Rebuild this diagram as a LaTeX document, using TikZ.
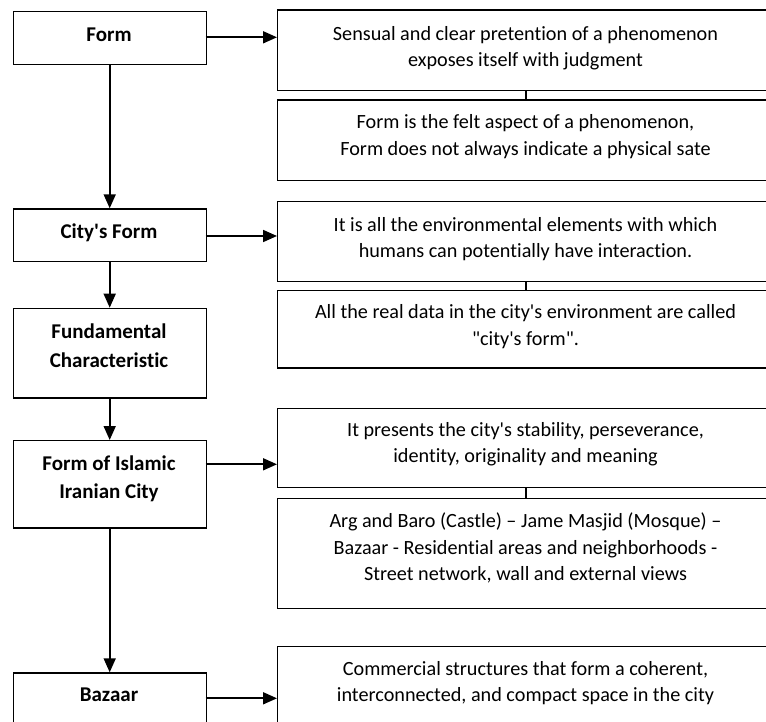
\documentclass[tikz,border=0pt]{standalone}
\usepackage{fontspec}
\setmainfont{Carlito}[Ligatures={TeXOff,NoCommon}]
\usetikzlibrary{arrows.meta,calc}
\begin{document}
\begin{tikzpicture}[x=1pt,y=-1pt,
  box/.style={draw=black,line width=1.4pt,rectangle,inner sep=0pt},
  lbox/.style={box,minimum width=193pt},
  rbox/.style={box,minimum width=497pt},
  ltxt/.style={align=center,font=\fontsize{21}{28.3}\selectfont\bfseries,inner sep=0pt},
  rtxt/.style={align=center,font=\fontsize{20.2}{26.5}\selectfont,inner sep=0pt},
  arr/.style={line width=1.7pt,-{Triangle[length=14pt,width=12pt]}},
  link/.style={line width=1.6pt}]
\useasboundingbox (0,0) rectangle (766,722);
\clip (0,0) rectangle (766,722);
% left boxes (x 12.5..205.5)
\node[lbox,minimum height=53.3pt,anchor=north west] (l1) at (12.5,10.7) {};
\node[lbox,minimum height=52.4pt,anchor=north west] (l2) at (12.5,208.3) {};
\node[lbox,minimum height=89.6pt,anchor=north west] (l3) at (12.5,307.7) {};
\node[lbox,minimum height=87.3pt,anchor=north west] (l4) at (12.5,440) {};
\node[lbox,minimum height=90pt,anchor=north west] (l5) at (12.5,672.3) {};
\node[ltxt] (lt1) at (109,35) {Form};
\node[ltxt] (lt2) at (109,232.7) {City's Form};
\node[ltxt] (lt3) at (109,345.8) {Fundamental\\Characteristic};
\node[ltxt] (lt4) at (109,478.6) {Form of Islamic\\Iranian City};
\node[ltxt] (lt5) at (109,695) {Bazaar};
% right boxes (x 277..774)
\node[rbox,minimum height=80.7pt,anchor=north west] (r1) at (277,9.3) {};
\node[rbox,minimum height=80.7pt,anchor=north west] (r2) at (277,99.3) {};
\node[rbox,minimum height=80pt,anchor=north west] (r3) at (277,200.7) {};
\node[rbox,minimum height=77.3pt,anchor=north west] (r4) at (277,290) {};
\node[rbox,minimum height=79pt,anchor=north west] (r5) at (277,407.7) {};
\node[rbox,minimum height=110pt,anchor=north west] (r6) at (277,497.7) {};
\node[rbox,minimum height=110pt,anchor=north west] (r7) at (277,645.7) {};
\node[rtxt] (rt1) at (525.5,48.3) {Sensual and clear pretention of a phenomenon\\exposes itself with judgment};
\node[rtxt] (rt2) at (525.5,136.5) {Form is the felt aspect of a phenomenon,\\Form does not always indicate a physical sate};
\node[rtxt] (rt3) at (525.5,239) {It is all the environmental elements with which\\humans can potentially have interaction.};
\node[rtxt] (rt4) at (525.5,326.5) {All the real data in the city's environment are called\\"city's form".};
\node[rtxt] (rt5) at (525.5,444) {It presents the city's stability, perseverance,\\identity, originality and meaning};
\node[rtxt] (rt6) at (525.5,548) {Arg and Baro (Castle) – Jame Masjid (Mosque) –\\Bazaar - Residential areas and neighborhoods -\\Street network, wall and external views};
\node[rtxt] (rt7) at (525.5,683) {Commercial structures that form a coherent,\\interconnected, and compact space in the city};
% vertical arrows
\draw[arr] (l1.south) -- (l2.north);
\draw[arr] (l2.south) -- (l3.north);
\draw[arr] (l3.south) -- (l4.north);
\draw[arr] (l4.south) -- (l5.north);
% links between right boxes
\draw[link] (r1.south) -- (r2.north);
\draw[link] (r3.south) -- (r4.north);
\draw[link] (r5.south) -- (r6.north);
% horizontal arrows
\coordinate (a1) at (205.5,37.3);
\coordinate (a2) at (205.5,236);
\coordinate (a3) at (205.5,464.3);
\coordinate (a4) at (205.5,698.3);
\draw[arr] (a1) -- (a1 -| r1.west);
\draw[arr] (a2) -- (a2 -| r3.west);
\draw[arr] (a3) -- (a3 -| r5.west);
\draw[arr] (a4) -- (a4 -| r7.west);
\end{tikzpicture}
\end{document}
